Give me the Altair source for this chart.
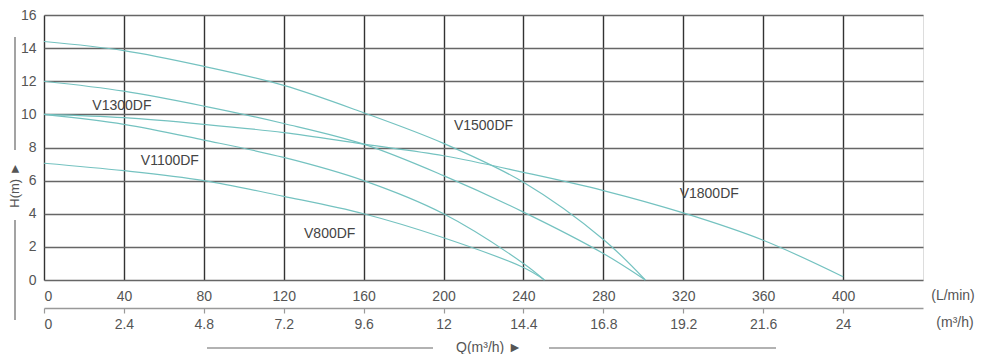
import altair as alt
import pandas as pd

# ---- data ----
series = ["V1500DF", "V1300DF", "V1800DF", "V1100DF", "V800DF"]
q_v1500 = [0, 40, 80, 120, 160, 200, 240, 280, 301]
h_v1500 = [14.4, 13.85, 12.9, 11.75, 10.1, 8.25, 5.9, 2.45, 0]
q_v1300 = [0, 40, 80, 120, 160, 200, 240, 280, 301]
h_v1300 = [12.0, 11.4, 10.5, 9.45, 8.2, 6.3, 4.1, 1.6, 0]
q_v1800 = [0, 40, 80, 120, 160, 200, 240, 280, 320, 360, 400]
h_v1800 = [10.0, 9.8, 9.4, 8.9, 8.2, 7.5, 6.5, 5.4, 4.05, 2.4, 0.2]
q_v1100 = [0, 40, 80, 120, 160, 200, 240, 250.5]
h_v1100 = [10.0, 9.4, 8.45, 7.4, 6.0, 4.0, 1.0, 0]
q_v800 = [0, 40, 80, 120, 160, 200, 240, 250.5]
h_v800 = [7.05, 6.6, 6.0, 5.05, 4.0, 2.55, 0.75, 0]

label_text = ["V1300DF", "V1100DF", "V1500DF", "V1800DF", "V800DF"]
label_q = [39, 63, 220, 333, 143]
label_h = [10.5, 7.2, 9.3, 5.2, 2.8]

lmin_ticks = [0, 40, 80, 120, 160, 200, 240, 280, 320, 360, 400]
m3h_labels = ["0", "2.4", "4.8", "7.2", "9.6", "12", "14.4", "16.8", "19.2", "21.6", "24"]
h_ticks = [0, 2, 4, 6, 8, 10, 12, 14, 16]

# ---- build tables ----
rows = []
for name, qs, hs in [
    ("V1500DF", q_v1500, h_v1500),
    ("V1300DF", q_v1300, h_v1300),
    ("V1800DF", q_v1800, h_v1800),
    ("V1100DF", q_v1100, h_v1100),
    ("V800DF", q_v800, h_v800),
]:
    for q, h in zip(qs, hs):
        rows.append({"series": name, "q": q, "h": h})
curves = pd.DataFrame(rows)
labels = pd.DataFrame({"text": label_text, "q": label_q, "h": label_h})
ticks = pd.DataFrame({"q": lmin_ticks, "h": [0] * len(lmin_ticks)})
one = pd.DataFrame({"a": [0]})

FONT = "Liberation Sans"
TXT = "#555555"
W, H = 879, 265
TOP = 7  # padding top; plot origin at 8 + TOP

xscale = alt.Scale(domain=[0, 440], nice=False, zero=True)
yscale = alt.Scale(domain=[0, 16], nice=False)

expr = ""
for v, lab in zip(lmin_ticks, m3h_labels):
    expr += f"datum.value == {v} ? '{lab}' : "
expr += "''"

yaxis = alt.Axis(values=h_ticks, title=None, grid=True, gridColor="#666666",
                 gridWidth=1.6, domain=False, ticks=False, labelPadding=8,
                 labelFontSize=14, labelColor=TXT, labelFont=FONT)

lines = alt.Chart(curves).mark_line(
    interpolate="catmull-rom", color="#74c2c0", strokeWidth=1.2
).encode(
    x=alt.X("q:Q", scale=xscale,
            axis=alt.Axis(values=lmin_ticks, title=None, grid=True, gridColor="#333333",
                          gridWidth=1.4, domain=False, ticks=False, labelPadding=9,
                          labelFontSize=14, labelColor=TXT, labelFont=FONT)),
    y=alt.Y("h:Q", scale=yscale, axis=yaxis),
    detail="series:N",
)

second_axis = alt.Chart(ticks).mark_point(opacity=0).encode(
    x=alt.X("q:Q", scale=xscale,
            axis=alt.Axis(values=lmin_ticks, orient="bottom", offset=28, title=None,
                          grid=False, domain=True, domainColor="#999999", domainWidth=1.5,
                          ticks=True, tickColor="#999999", tickSize=5, tickWidth=1.2,
                          labelPadding=4, labelFontSize=14, labelColor=TXT,
                          labelFont=FONT, labelExpr=expr)),
    y=alt.Y("h:Q", scale=yscale, axis=yaxis),
)

text = alt.Chart(labels).mark_text(
    font=FONT, fontSize=14, color="#444444"
).encode(
    x=alt.X("q:Q", scale=xscale, axis=None),
    y=alt.Y("h:Q", scale=yscale, axis=yaxis),
    text="text:N",
)

def txt(s, x, y, angle=0, size=14):
    kw = dict(font=FONT, fontSize=size, color=TXT, text=s, baseline="middle", align="center")
    if angle:
        kw["angle"] = angle
    return alt.Chart(one).mark_text(**kw).encode(x=alt.value(x), y=alt.value(y - TOP + 5))

def rule(x1, y1, x2, y2):
    return alt.Chart(one).mark_rule(color="#666666", strokeWidth=1.2).encode(
        x=alt.value(x1), y=alt.value(y1 - TOP + 5), x2=alt.value(x2), y2=alt.value(y2 - TOP + 5))

deco = [
    txt("(L/min)", 909, 283),
    txt("(m³/h)", 911, 310),
    txt("Q(m³/h)  ►", 445, 335),
    rule(163, 335, 389, 335),
    rule(505, 335, 732, 335),
    txt("H(m)  ►", -29, 172, angle=270, size=13),
    rule(-29, 24, -29, 137),
    rule(-29, 207, -29, 307),
]

chart = alt.layer(lines, second_axis, text, *deco).resolve_axis(x="independent").properties(
    width=W, height=H,
    autosize=alt.AutoSizeParams(type="none"),
    padding={"left": 36, "top": TOP, "right": 63, "bottom": 346 - TOP - H},
).configure_view(stroke="#999999", strokeWidth=2).configure(background="white")

chart.save("out.html", embed_options={"renderer": "svg", "actions": False})
